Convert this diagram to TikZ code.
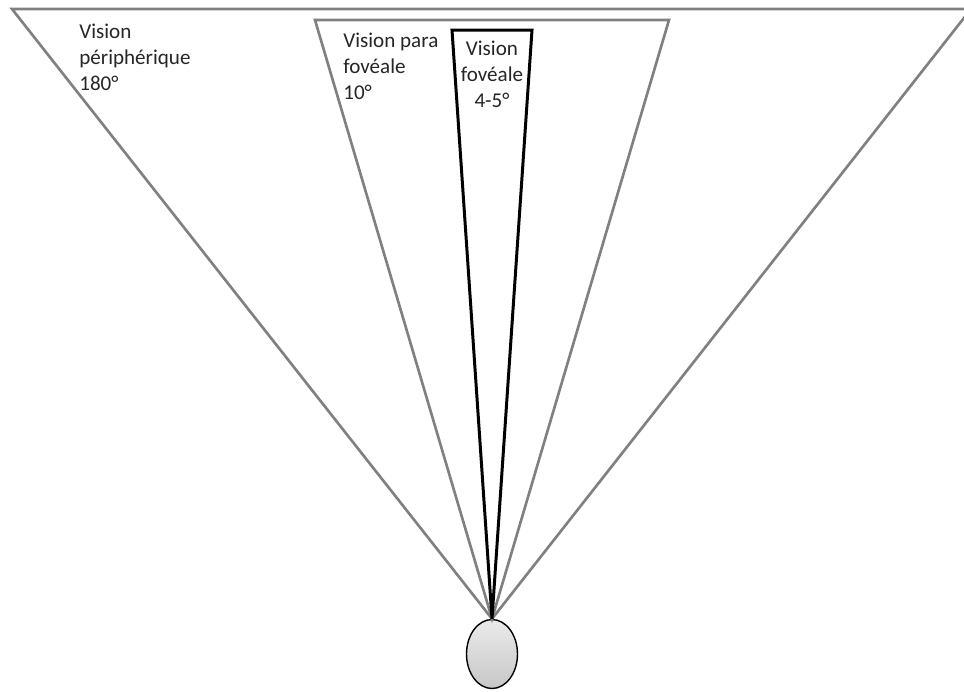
\documentclass[tikz,border=0pt]{standalone}
\usepackage{fontspec}
\setmainfont{Carlito}
\usetikzlibrary{shapes.geometric,positioning}

\begin{document}
\begin{tikzpicture}[
    x=0.02cm, y=-0.02cm,
    cone/.style={draw=black!50, line width=1.5pt, line join=miter},
    fovea/.style={draw=black, line width=1.7pt, line join=miter},
    eyeball/.style={draw, ellipse, line width=0.8pt, minimum width=1.02cm, minimum height=1.38cm, top color=black!8, bottom color=black!22, inner sep=0pt},
    lbl/.style={anchor=north west, align=left, inner sep=0pt, text=black!85, font=\fontsize{12pt}{14.6pt}\selectfont}
]
\useasboundingbox (0,0) rectangle (964,691);
\fill[white] (0,0) rectangle (964,691);

\node[eyeball] (eye) at (492,654) {};

% corners of the three fields
\coordinate (pl) at (12,9);
\coordinate (pr) at (971,9);
\coordinate (ql) at (315,20);
\coordinate (qr) at (669,20);
\coordinate (fl) at (452,30);
\coordinate (fr) at (532,30);

\draw[cone] (eye.north) -- (pl) -- (pr) -- cycle;
\draw[cone] (eye.north) -- (ql) -- (qr) -- cycle;
\draw[fovea] (eye.north) -- (fl) -- (fr) -- cycle;

\node[lbl] (periph) at (79,24) {Vision\\périphérique\\180°};
\node[lbl] (para) at (343,33) {Vision para\\fovéale\\10°};
\node[lbl, anchor=north, align=center] (fov) at (492,41) {Vision\\fovéale\\4-5°};
\end{tikzpicture}
\end{document}
